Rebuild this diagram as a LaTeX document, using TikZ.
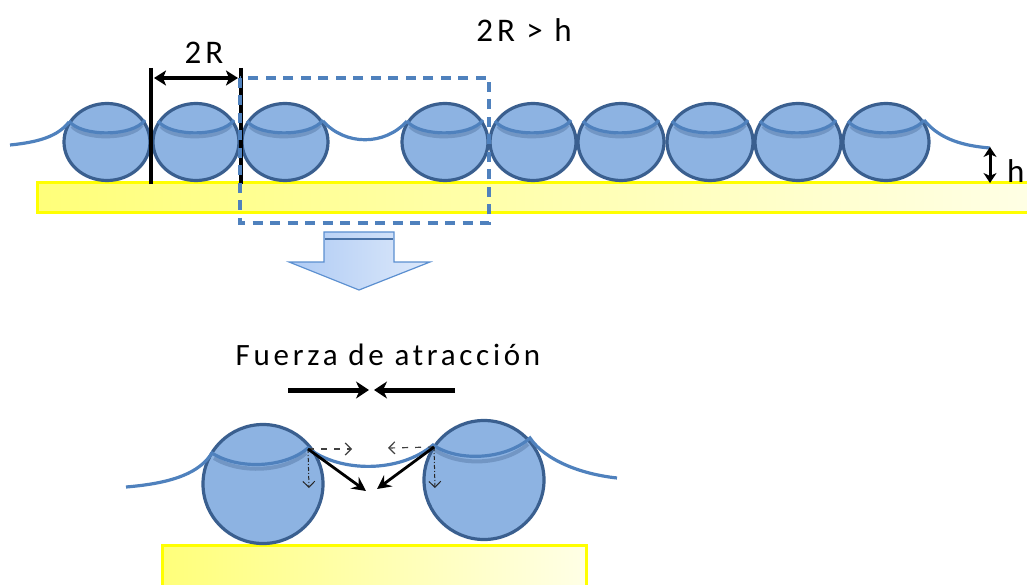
\documentclass[tikz,border=0pt]{standalone}
\usepackage{fontspec}
\setmainfont{Carlito}
\newfontfamily\lbl[LetterSpace=12]{Carlito}
\usetikzlibrary{arrows.meta,shapes.geometric}
\definecolor{ballfill}{HTML}{8DB3E2}
\definecolor{balledge}{HTML}{3A5F8F}
\definecolor{water}{HTML}{4F81BD}
\definecolor{shade}{HTML}{4A6B98}
\definecolor{subedge}{HTML}{FFFF00}
\definecolor{subleft}{HTML}{FFFF7A}
\definecolor{subright}{HTML}{FFFFE6}
\definecolor{boxblue}{HTML}{4F81BD}
\definecolor{bigarrowedge}{HTML}{5B8FD0}
\definecolor{bigarrowleft}{HTML}{AFCBF4}
\definecolor{bigarrowright}{HTML}{DDE9FB}
\tikzset{
  ball/.style={ellipse, draw=balledge, fill=ballfill, line width=3.2pt, inner sep=0pt},
  topball/.style={ball, minimum width=86pt, minimum height=77pt},
  lowball/.style={ball, minimum width=120pt, minimum height=119pt},
  waterline/.style={draw=water, line width=3.2pt},
  wshadow/.style={draw=shade, line width=4pt, opacity=0.4},
  substrate/.style={draw=subedge, line width=3pt, left color=subleft, right color=subright},
  dimline/.style={black, line width=4pt},
  dimarrow/.style={black, line width=3.6pt, {Stealth[length=12pt,width=15pt,inset=3pt]}-{Stealth[length=12pt,width=15pt,inset=3pt]}},
  force/.style={black, line width=5pt, -{Stealth[length=13pt,width=17pt,inset=4pt]}},
  comp/.style={black, line width=2.8pt, -{Stealth[length=14pt,width=14pt,inset=5pt]}},
  hcomp/.style={black!75, line width=1.2pt, dash pattern=on 6pt off 7pt, -{Straight Barb[length=6pt,width=12pt]}},
  vcomp/.style={black!85, line width=1pt, dash pattern=on 4pt off 2pt on 1pt off 2pt, -{Straight Barb[length=6pt,width=12pt]}},
  zoombox/.style={draw=boxblue, line width=4pt, dash pattern=on 10pt off 7.5pt},
  txt/.style={font=\lbl\fontsize{33}{35}\selectfont, inner sep=0pt}
}
\begin{document}
\begin{tikzpicture}[x=1pt,y=-1pt]
\useasboundingbox (0,0) rectangle (1027,585);

% substrates
\path[substrate] (37,183) rectangle (1040,213);
\path[substrate] (162,545) rectangle (586,600);

% row of particles resting on the substrate
\foreach \n/\cx in {1/107,2/196,3/285,4/445,5/533,6/621,7/710,8/798,9/886}{
  \node[topball] (b\n) at (\cx,142) {};
}
% meniscus where the liquid film meets each particle
\foreach \cx in {107,196,285,445,533,621,710,798,886}{
  \draw[wshadow] (\cx-35,126) .. controls (\cx-24,140) and (\cx+24,140) .. (\cx+35,125);
  \draw[waterline] (\cx-38,121) .. controls (\cx-26,137) and (\cx+26,137) .. (\cx+38,120);
}
% liquid film between and beyond the particles
\draw[waterline] (10,145) .. controls (40,142) and (58,136) .. (69,122);
\draw[waterline] (323,121) .. controls (345,146) and (385,146) .. (407,121);
\draw[waterline] (924,120) .. controls (940,140) and (965,146) .. (990,148);

% particle diameter
\coordinate (v1t) at (151,68); \coordinate (v1b) at (151,184);
\coordinate (v2t) at (241,68); \coordinate (v2b) at (241,184);
\draw[dimline] (v1t) -- (v1b);
\draw[dimline] (v2t) -- (v2b);
\coordinate (d1) at (154,78); \coordinate (d2) at (238,78);
\draw[dimarrow] (d1) -- (d2);
\node[txt] (lab2R) at (204,53) {2R};

% film thickness
\coordinate (h1) at (990,147); \coordinate (h2) at (990,183);
\draw[black, line width=3pt, {Stealth[length=10pt,width=13pt,inset=3pt]}-{Stealth[length=10pt,width=13pt,inset=3pt]}] (h1) -- (h2);
\node[txt, anchor=west] (labh) at (1007,171) {h};

\node[txt] (cond) at (524,30) {2R > h};

% enlarged region
\draw[zoombox] (240,78) rectangle (489,223);

% block arrow pointing to the detail
\shade[left color=bigarrowleft, right color=bigarrowright, draw=bigarrowedge, line width=1.2pt]
  (324,232) -- (394,232) -- (394,262) -- (430,262) -- (359,290) -- (289,262) -- (324,262) -- cycle;
\draw[bigarrowedge!80!black, line width=1.4pt] (325,239) -- (393,239);

% detail: two particles pulled together by the film
\node[txt, font=\lbl\fontsize{31}{33}\selectfont] (title) at (388,355) {Fuerza de atracción};
\coordinate (fl1) at (288,390); \coordinate (fl2) at (369,390);
\coordinate (fr1) at (455,390); \coordinate (fr2) at (374,390);
\draw[force] (fl1) -- (fl2);
\draw[force] (fr1) -- (fr2);

\node[lowball] (p1) at (263,484) {};
\node[lowball] (p2) at (484,480) {};

\draw[wshadow] (214,458) .. controls (240,474) and (285,472) .. (306,453);
\draw[wshadow] (435,450) .. controls (460,467) and (505,465) .. (528,444);
\draw[waterline] (126,487) .. controls (175,483) and (200,472) .. (212,453)
  .. controls (238,470) and (285,468) .. (308,448)
  .. controls (340,473) and (400,473) .. (433,445)
  .. controls (458,462) and (505,460) .. (530,438)
  .. controls (545,460) and (580,474) .. (617,478);

% contact points and force components
\coordinate (cl) at (308,449);
\coordinate (cr) at (434,447);
\coordinate (rl) at (366,491);
\coordinate (rr) at (377,489);
\coordinate (xl) at (352,449);
\coordinate (xr) at (388,448);
\coordinate (yl) at (309,488);
\coordinate (yr) at (435,488);
\draw[hcomp] (cl) -- (xl);
\draw[hcomp] (cr) -- (xr);
\draw[vcomp] (cl) -- (yl);
\draw[vcomp] (cr) -- (yr);
\draw[comp] (cl) -- (rl);
\draw[comp] (cr) -- (rr);
\end{tikzpicture}
\end{document}
